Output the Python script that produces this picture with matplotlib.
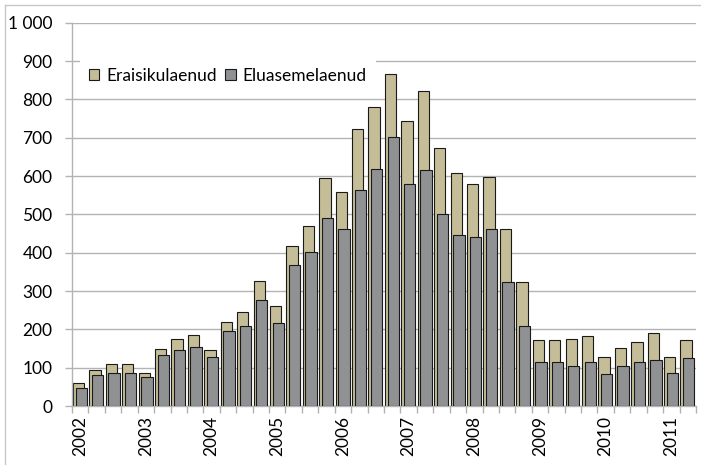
import matplotlib.pyplot as plt
from matplotlib.ticker import FixedLocator, FuncFormatter
from matplotlib.lines import Line2D

# quarterly values, 2002 Q1 .. 2011 Q2
years = ['2002', '2003', '2004', '2005', '2006', '2007', '2008', '2009', '2010', '2011']
eraisikulaenud = [61, 93, 110, 110, 87, 150, 174, 184, 145, 218, 245, 325, 260,
                  418, 469, 594, 558, 722, 781, 865, 744, 822, 673, 607, 580, 598,
                  463, 323, 172, 172, 176, 183, 127, 151, 166, 190, 127, 171]
eluasemelaenud = [47, 80, 87, 87, 76, 134, 145, 153, 127, 196, 208, 276, 216,
                  367, 402, 490, 461, 563, 618, 702, 578, 617, 501, 446, 440, 462,
                  323, 210, 116, 114, 104, 114, 84, 104, 114, 119, 85, 124]

plt.rcParams['font.family'] = ['Lato', 'DejaVu Sans']
fig = plt.figure(figsize=(7.01, 4.65), dpi=100)
ax = fig.add_axes([72 / 701, 59 / 465, 624 / 701, 383.3 / 465])

n = len(eraisikulaenud)
x = list(range(n))
w = 0.69
tan = '#C4BD97'
grey = '#909193'
ax.bar([i - 0.1 for i in x], eraisikulaenud, width=w, color=tan,
       edgecolor='#1a1a1a', linewidth=0.8, zorder=2, label='Eraisikulaenud')
ax.bar([i + 0.06 for i in x], eluasemelaenud, width=w, color=grey,
       edgecolor='#1a1a1a', linewidth=0.8, zorder=3, label='Eluasemelaenud')

ax.set_xlim(-0.5, n - 0.5)
ax.set_ylim(0, 1000)
ax.set_yticks(range(0, 1001, 100))
ax.yaxis.set_major_formatter(FuncFormatter(lambda v, p: '{:,}'.format(int(v)).replace(',', ' ')))
ax.grid(axis='y', color='#b3b3b3', linewidth=1.0, zorder=0)
ax.set_axisbelow(True)

# year labels at first quarter, tick marks on category borders
ax.xaxis.set_major_locator(FixedLocator([4 * k for k in range(len(years))]))
ax.set_xticklabels(years, rotation=90)
ax.xaxis.set_minor_locator(FixedLocator([i - 0.5 for i in range(n + 1)]))
ax.tick_params(axis='x', which='major', length=0, pad=7, labelsize=12.5)
ax.tick_params(axis='x', which='minor', length=5, color='#b3b3b3', width=1)
ax.tick_params(axis='y', length=5, color='#b3b3b3', width=1, pad=9, labelsize=12.5)

for s in ['top', 'right']:
    ax.spines[s].set_visible(False)
for s in ['left', 'bottom']:
    ax.spines[s].set_color('#b3b3b3')
    ax.spines[s].set_linewidth(1.0)

leg = ax.legend(loc='upper left', bbox_to_anchor=(0.0128, 0.9045), ncol=2,
                frameon=True, fancybox=False, framealpha=1, edgecolor='none',
                fontsize=12.5, handlelength=0.6, handleheight=0.6,
                handletextpad=0.4, columnspacing=0.5, borderpad=0.5,
                borderaxespad=0)
leg.set_zorder(1.5)

# chart area border (left and top visible)
fig.add_artist(Line2D([4.5 / 701, 4.5 / 701], [0, 1 - 5.5 / 465], color='#c8c8c8', linewidth=1))
fig.add_artist(Line2D([4.5 / 701, 1], [1 - 5.5 / 465, 1 - 5.5 / 465], color='#c8c8c8', linewidth=1))

fig.savefig('out.png', dpi=100)
